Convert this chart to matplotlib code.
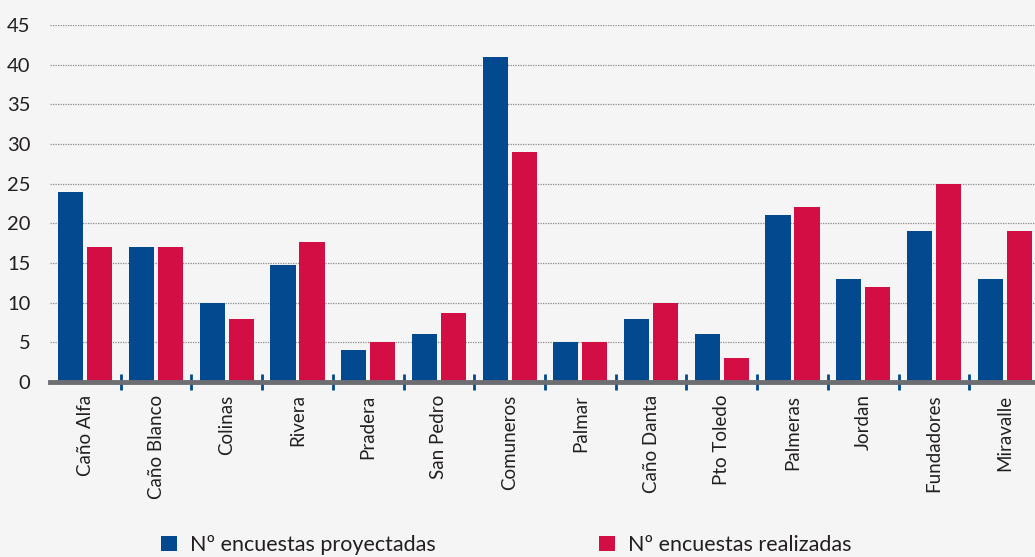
import matplotlib
matplotlib.use("Agg")
import matplotlib.pyplot as plt
import numpy as np

C = {
    "bg":    "#f4f5f4",
    "blue":  "#02498f",
    "red":   "#d30e45",
    "grid":  "#8a8a8a",
    "axis":  "#6d6e71",
    "text":  "#231f20",
}

plt.rcParams["font.family"] = ["Lato", "DejaVu Sans"]

barrios = ["Caño Alfa", "Caño Blanco", "Colinas", "Rivera", "Pradera",
           "San Pedro", "Comuneros", "Palmar", "Caño Danta", "Pto Toledo",
           "Palmeras", "Jordan", "Fundadores", "Miravalle"]
proyectadas = [24, 17, 10, 14.7, 4, 6, 41, 5, 8, 6, 21, 13, 19, 13]
realizadas = [17, 17, 8, 17.6, 5, 8.7, 29, 5, 10, 3, 22, 12, 25, 19]
yticks = [0, 5, 10, 15, 20, 25, 30, 35, 40, 45]

fig = plt.figure(figsize=(10.35, 5.57), dpi=100)
fig.patch.set_facecolor(C["bg"])
ax = fig.add_axes([50 / 1035, 1 - 382 / 557, 990 / 1035, 357 / 557])
ax.set_facecolor(C["bg"])

x = np.arange(len(barrios))
w = 0.354
off = 0.205
b1 = ax.bar(x - off, proyectadas, width=w, color=C["blue"], zorder=3,
            label="Nº encuestas proyectadas")
b2 = ax.bar(x + off, realizadas, width=w, color=C["red"], zorder=3,
            label="Nº encuestas realizadas")

ax.set_xlim(-0.5, len(barrios) - 0.5)
ax.set_ylim(0, 45)
ax.set_yticks(yticks)
ax.set_yticklabels([str(v) for v in yticks], fontsize=14.5, color=C["text"])
ax.yaxis.grid(True, linestyle=(0, (1, 1)), color=C["grid"], lw=0.9, zorder=0)
ax.tick_params(axis="y", length=0, pad=14)

ax.set_xticks(x)
ax.set_xticklabels(barrios, rotation=90, fontsize=13.5, color=C["text"])
ax.tick_params(axis="x", which="major", length=0, pad=9)
ax.set_xticks(np.arange(0.5, len(barrios) - 0.5, 1), minor=True)
ax.tick_params(axis="x", which="minor", direction="inout", length=11,
               width=2, color=C["blue"])

for name, sp in ax.spines.items():
    if name == "bottom":
        sp.set_color(C["axis"])
        sp.set_linewidth(3.5)
        sp.set_zorder(4)
    else:
        sp.set_visible(False)

leg = fig.legend(handles=[b1, b2], loc="center",
                 bbox_to_anchor=(0.489, 1 - 545 / 557),
                 ncol=2, frameon=False, fontsize=15.5, handlelength=0.75,
                 handleheight=0.75, handletextpad=0.6, columnspacing=7.6)
for t in leg.get_texts():
    t.set_color(C["text"])

fig.savefig("out.png", dpi=100, facecolor=C["bg"])
